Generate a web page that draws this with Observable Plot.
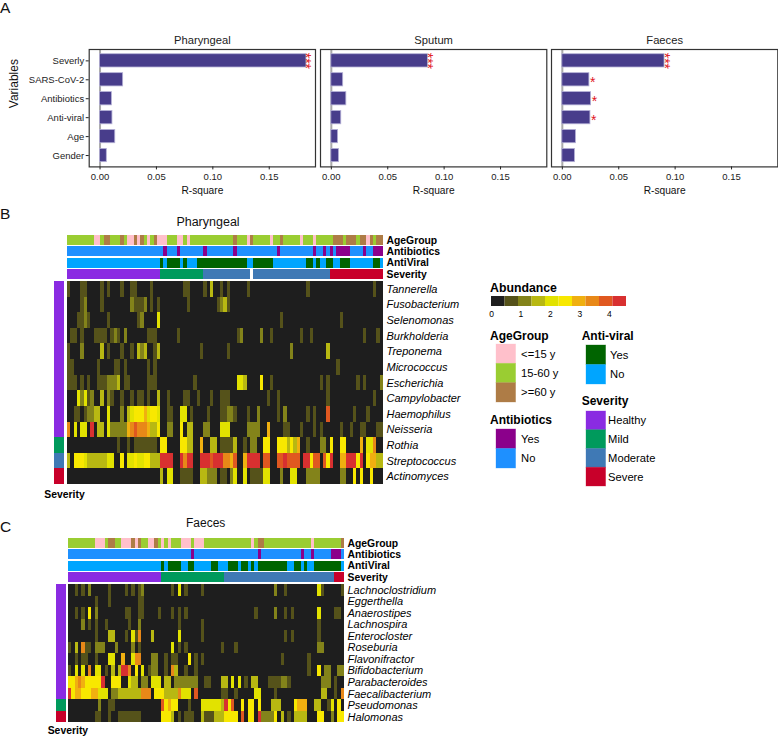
<!DOCTYPE html>
<html><head><meta charset="utf-8">
<script src="https://cdn.jsdelivr.net/npm/d3@7"></script>
<script src="https://cdn.jsdelivr.net/npm/@observablehq/plot@0.6"></script>
<style>
html,body{margin:0;padding:0;background:#fff}
#page{position:relative;width:778px;height:736px;overflow:hidden;font-family:"Liberation Sans",Arial,sans-serif;color:#111}
#page .t{position:absolute;white-space:nowrap;transform:translate(-50%,-50%)}
#page .l{position:absolute;white-space:nowrap;transform:translateY(-50%)}
#page svg{position:absolute;overflow:visible;max-width:none;background:transparent}
</style></head><body><div id="page"></div>
<script>
// ---------- Panel A ----------
const variables = ["Severly","SARS-CoV-2","Antibiotics","Anti-viral","Age","Gender"];
const pharyngealR2 = [0.183,0.0205,0.0105,0.011,0.0135,0.006];
const sputumR2 = [0.0857,0.0105,0.0133,0.0088,0.006,0.0068];
const faecesR2 = [0.0906,0.024,0.0255,0.0249,0.0121,0.0112];
const pharyngealStars = ["***","","","","",""];
const sputumStars = ["***","","","","",""];
const faecesStars = ["***","*","*","*","",""];
const r2Ticks = [0,0.05,0.10,0.15];

// ---------- Heat maps: "col:level" or "from-to:level" per taxon, everything else level 0 ----------
const abundanceLevels = [0,1,2,3,4,5,6,7,8,9];
const abundancePalette = ["#1e1e1e","#55521a","#83831a","#b8b812","#e2e200","#f8e800","#f0b010","#e88818","#e05820","#d83030"];
const abundanceTicks = [0,1,2,3,4];

const pharyngealTaxa = ["Tannerella","Fusobacterium","Selenomonas","Burkholderia","Treponema","Micrococcus","Escherichia","Campylobacter","Haemophilus","Neisseria","Rothia","Streptococcus","Actinomyces"];
const pharyngealRows = [
"0:1 4-5:1 10:1 12:1 16:1 19-20:1 25:1 35-36:1 41:1 43:3 46:1 48:1 54:1 72:1 92:1",
"4:1 5:2 10:1 19:2 20-22:1 23:2 25:1 27:1 36:1 45:1 46:2 47:3 48:1",
"3-4:1 5:2 6:1 12:1 21:1 22:2 27:4 64:1 82:1",
"1-2:1 4:1 8-11:1 13:1 14:2 15:1 17:2 24-26:1 33:1 51:1 52:2 58:2 61:1 70:1 73:1 89:1 93:1",
"0:1 4:2 10:3 12:1 16:1 19:1 21:3 22:2 23:3 26:1 27:3 40:1 48:1 67:2 78:3",
"0-1:1 9:1 14-15:1 17:1 24:1 26:1 81:1",
"0-2:1 4:1 6:1 9-11:1 12-14:2 15:3 17-18:1 24-26:1 38:1 51-52:4 53:3 58:5 61:1 76:1 78:1 87:1 89:1 94:2",
"3:4 4:2 5:4 6:1 7:2 10:3 12:2 13:1 16:1 19:1 21-22:1 24:1 27:3 30:1 35-36:1 39:1 43:1 46-47:1 48:1 60:1 63:1 78:1 92:1",
"2-3:1 5:1 6-7:2 8-9:3 12:4 16:2 18:3 19:4 20:5 21-22:5 23:6 24:4 25-26:5 27:4 30-31:1 34-35:4 37:1 42:1 46-47:1 48-49:2 50:1 54:1 57:2 63:1 65:2 72:1 74:1 78:8 86:1 90:1",
"0:7 2:4 4-5:4 7:9 9-10:3 12:4 13-17:2 18:6 19:7 20:8 21-23:7 24:6 25-26:3 27:5 30-31:2 34:5 36-37:3 41-42:2 46-48:4 54-57:2 60:6 65-66:1 70:1 74:1 76:1 82:1 85:1 88-89:1 93-94:1",
"15:1 18:1 20:1 21-26:1 28-29:5 34-35:5 36-37:3 40:6 43-44:3 46-49:1 50:3 53:1 55-56:2 59-60:5 63-65:5 66:3 67:5 68:3 69:6 72:1 76-77:2 79:5 82-83:5 88:6 90-91:4 92:7",
"0:3 2-4:5 5:4 6-11:3 12-13:4 16:5 18-19:4 20:5 21-22:4 23-24:5 25-27:3 28-31:9 34:9 35:7 36-37:9 40-42:9 43:8 44-46:9 47-48:7 49:6 50:8 53:6 54-57:9 59-60:8 63-64:8 65:9 66-69:8 71-72:9 73:5 74-75:8 77:8 78:5 79:9 82-83:6 84-86:9 87:5 88:9 90:5 91-92:6 93-94:3",
"28:3 30-31:4 34-37:1 40-41:3 42-44:2 46-47:1 49:2 50:4 53:4 55-58:1 59-60:4 64:2 67-68:4 72-75:2 82-83:2 86:5 88:5 91:5"
];
const pharyngealColumns = 95;
const pharyngealTaxonSeverity = ["Healthy","Healthy","Healthy","Healthy","Healthy","Healthy","Healthy","Healthy","Healthy","Healthy","Mild","Moderate","Severe"];

const faecesTaxa = ["Lachnoclostridium","Eggerthella","Anaerostipes","Lachnospira","Enterocloster","Roseburia","Flavonifractor","Bifidobacterium","Parabacteroides","Faecalibacterium","Pseudomonas","Halomonas"];
const faecesRows = [
"2:1 4:1 6:2 12:1 17:1 19:1 21:1 22:2 31:1 33:4 35:1 40:1 62:2 65:1 75:4 76:1 82:1",
"8:1 12:1 21-22:1",
"2:1 4:1 6:5 8:2 17-18:1 21:1 22:1 27:1 31:1 33:1 35:1 56:1 62:2 65:1 67:1 75:4 80:1 81:1",
"4:2 6:1 8:1 11:1 18:1 21:2 33:1 40:1 75:1",
"8:1 12-13:3 17:1 19:4 20:1 21:7 25:3 33:4 40:1 65:1 67:1 75:1",
"0:1 2:3 4:7 5-6:1 8-10:2 14:2 19:2 21:1 31:4 33:1 35:1 46:1 50:1 75-76:2",
"2:1 4-5:1 8:1 12-13:4 16:6 19:4 20-21:7 25-26:2 29:1 31-32:1 36:5 38:1 40:1 64:1 72:1",
"0:1 2:4 4:4 6:7 8-9:4 11:1 13:3 15:3 16-17:9 18:7 20:5 22:4 24:1 25-26:2 29:1 31:7 32:3 35:1 38:1 72:1 75:5 77-78:2 81-82:2",
"0-1:5 2:6 3:7 4:6 5-6:5 7-9:5 10:9 13-15:5 18:4 19-20:3 22-23:2 25-27:4 29-30:3 32-38:2 41-42:1 46-47:3 49:4 51:4 53:1 55-56:3 60-63:1 64-65:2 66:1 76-78:2 80:1",
"0:9 1:5 2-3:6 4-6:5 7-8:6 9-11:4 13-14:2 15-21:3 22-24:7 26-28:5 29-32:3 33:7 34-36:4 38:8 46-47:1 50:1 56-57:4 62:1 76-77:3 80:1 82:7",
"9:2 12-13:1 28:8 29:5 30:6 31-32:5 36:1 40-45:4 46:3 47:9 48:5 49:8 52:5 54-55:5 57:5 61-63:3 68:5 69-71:6 74-75:3 78:1 79:4 81:5",
"8-9:1 12:1 15-17:1 18-21:1 28-30:5 31:3 33:1 35-37:1 40:3 41-43:1 44-46:3 47-50:5 52:8 54-55:5 57:9 58-61:2 62:5 64:3 66:1 68-71:3 75-76:5 79:2 81-82:5"
];
const faecesColumns = 83;
const faecesTaxonSeverity = ["Healthy","Healthy","Healthy","Healthy","Healthy","Healthy","Healthy","Healthy","Healthy","Healthy","Mild","Severe"];

// ---------- Sample annotations: base category, then "col:category" overrides ----------
const tracks = ["AgeGroup","Antibiotics","AntiViral","Severity"];
const pharyngealAge = "0-94:15-60 y 8-9:<=15 y 11-12:>=60 y 16:>=60 y 18-19:<=15 y 20:>=60 y 21:<=15 y 22:>=60 y 24:<=15 y 26:>=60 y 27:<=15 y 28-29:<=15 y 33-34:<=15 y 36:<=15 y 50:>=60 y 54:<=15 y 55:>=60 y 61:<=15 y 64:>=60 y 70:<=15 y 74:<=15 y 80-82:>=60 y 84-86:>=60 y 88-89:>=60 y 90:<=15 y 91:>=60 y 93-94:>=60 y";
const pharyngealAntibiotics = "0-94:No 29:Yes 33:Yes 41:Yes 50:Yes 63:Yes 74:Yes 77:Yes 79:Yes 81-84:Yes 89:Yes 92-94:Yes";
const pharyngealAntiviral = "0-94:No 28:Yes 30-33:Yes 35:Yes 39-53:Yes 56-61:Yes 72-73:Yes 75:Yes 78-79:Yes 82-84:Yes 92-93:Yes";
const pharyngealSeverity = "0-27:Healthy 28-40:Mild 41-54:Moderate 56-78:Moderate 79-94:Severe";
const faecesAge = "0-82:15-60 y 8-10:<=15 y 12-13:>=60 y 16-18:<=15 y 19:>=60 y 20:<=15 y 21:>=60 y 24:<=15 y 25:<=15 y 26:>=60 y 28:<=15 y 30:<=15 y 34-36:<=15 y 38-40:<=15 y 55:<=15 y 57-58:>=60 y 73:<=15 y 82:>=60 y";
const faecesAntibiotics = "0-82:No 37:Yes 57:Yes 70:Yes 73:Yes 79-81:Yes";
const faecesAntiviral = "0-82:No 28:Yes 30-33:Yes 36-37:Yes 43-44:Yes 48-50:Yes 52-53:Yes 55:Yes 57-65:Yes 68-69:Yes 71:Yes 74-81:Yes";
const faecesSeverity = "0-27:Healthy 28-46:Mild 47-79:Moderate 80-82:Severe";

// ---------- Legends ----------
const ageLevels = ["<=15 y","15-60 y",">=60 y"];
const ageColors = ["#ffc0cb","#9acd32","#ae7c46"];
const antibioticLevels = ["Yes","No"];
const antibioticColors = ["#8b008b","#1e90ff"];
const antiviralLevels = ["Yes","No"];
const antiviralColors = ["#006400","#00a5ff"];
const severityLevels = ["Healthy","Mild","Moderate","Severe"];
const severityColors = ["#8a2be2","#009a5c","#3f79b5","#c8002a"];

const page = document.getElementById("page");
const FONT = '"Liberation Sans",Arial,sans-serif';
const colorOf = {
  AgeGroup: Object.fromEntries(ageLevels.map((k,i)=>[k,ageColors[i]])),
  Antibiotics: Object.fromEntries(antibioticLevels.map((k,i)=>[k,antibioticColors[i]])),
  AntiViral: Object.fromEntries(antiviralLevels.map((k,i)=>[k,antiviralColors[i]])),
  Severity: Object.fromEntries(severityLevels.map((k,i)=>[k,severityColors[i]]))
};
function place(svg,x,y){svg.style.left=x+"px";svg.style.top=y+"px";page.appendChild(svg);}
function label(cls,text,x,y,size,extra){const s=document.createElement("span");s.className=cls;s.textContent=text;s.style.left=x+"px";s.style.top=y+"px";s.style.fontSize=size+"px";if(extra)Object.assign(s.style,extra);page.appendChild(s);}
function parseRuns(str,extra){
  return str.match(/\d+(-\d+)?:[^:]+?(?= \d+(?:-\d+)?:|$)/g).map(tok=>{
    const i=tok.indexOf(":"),[a,b]=tok.slice(0,i).split("-").map(Number);
    return {start:a,end:(b===undefined?a:b)+1,value:tok.slice(i+1),...extra};
  });
}

// Panel A
function barPanel(title,values,stars,left,withAxis){
  const W=226.3,H=117.4,ml=withAxis?88.7:8,mr=8,mt=22,mb=32;
  const data=variables.map((v,i)=>({v,r2:values[i],star:stars[i]}));
  const marks=[
    Plot.ruleX([0],{stroke:"#aaa",strokeWidth:2}),
    Plot.barX(data,{x:"r2",y:"v",fill:"#483d8b",stroke:"#b4b0d6",strokeWidth:0.8}),
    Plot.text(data.filter(d=>d.star.length>1),{x:"r2",y:"v",text:"star",rotate:90,fill:"#e0141c",fontSize:14,dx:-0.5}),
    Plot.text(data.filter(d=>d.star.length===1),{x:"r2",y:"v",text:"star",fill:"#e0141c",fontSize:14,dx:3.4,dy:3}),
    Plot.frame({stroke:"#333",strokeWidth:1.2}),
    Plot.axisX({ticks:r2Ticks,tickFormat:d3.format(".2f"),tickSize:3,tickPadding:3.5,label:null,fontSize:9.5,color:"#222"}),
    Plot.text([title],{frameAnchor:"top",dy:-13,fontSize:11.2,fill:"#222"}),
    Plot.text(["R-square"],{frameAnchor:"bottom",dy:27,fontSize:10.2,fill:"#111"})
  ];
  if(withAxis){
    marks.push(Plot.axisY({tickSize:3,tickPadding:2,label:null,fontSize:9.5,color:"#222"}));
    marks.push(Plot.text(["Variables"],{frameAnchor:"left",dx:-75,rotate:-90,fontSize:12,fill:"#111"}));
  }
  const svg=Plot.plot({width:W+ml+mr,height:H+mt+mb,marginLeft:ml,marginRight:mr,marginTop:mt,marginBottom:mb,
    style:{fontFamily:FONT,background:"transparent"},
    x:{domain:[-0.0096,0.191]},y:{type:"band",domain:variables,paddingInner:0.3,paddingOuter:0.25,round:false,axis:withAxis?undefined:null},marks});
  place(svg,left-ml,49.3-mt);
}
barPanel("Pharyngeal",pharyngealR2,pharyngealStars,88.7,true);
barPanel("Sputum",sputumR2,sputumStars,319.5,false);
barPanel("Faeces",faecesR2,faecesStars,551.3,false);

// Heat map blocks
function annotation(specs,n,x,y,w){
  const H=43.9,mr=70;
  const runs=tracks.flatMap((t,i)=>parseRuns(specs[i],{track:t}));
  const svg=Plot.plot({width:w+mr,height:H,marginLeft:0,marginRight:mr,marginTop:0,marginBottom:0,
    style:{fontFamily:FONT,background:"transparent"},
    x:{domain:[0,n],axis:null},y:{type:"band",domain:tracks,paddingInner:0.11,paddingOuter:0,round:false,axis:null},
    marks:[
      Plot.barX(runs,{x1:"start",x2:"end",y:"track",fill:d=>colorOf[d.track][d.value],shapeRendering:"crispEdges"}),
      Plot.axisY({anchor:"right",tickSize:0,tickPadding:3,label:null,fontSize:10.4,fontWeight:"bold",color:"#000"})
    ]});
  place(svg,x,y);
}
function heat(taxa,rows,n,x,y,w,h){
  const mr=100;
  const base=taxa.map(t=>({taxon:t,start:0,end:n,value:0}));
  const runs=taxa.flatMap((t,i)=>parseRuns(rows[i],{taxon:t})).map(d=>({...d,value:+d.value}));
  const svg=Plot.plot({width:w+mr,height:h,marginLeft:0,marginRight:mr,marginTop:0,marginBottom:0,
    style:{fontFamily:FONT,fontStyle:"italic",background:"transparent"},
    x:{domain:[0,n],axis:null},y:{type:"band",domain:taxa,padding:0,round:false,axis:null},
    color:{type:"ordinal",domain:abundanceLevels,range:abundancePalette},
    marks:[
      Plot.barX(base.concat(runs),{x1:"start",x2:"end",y:"taxon",fill:"value",shapeRendering:"crispEdges"}),
      Plot.axisY({anchor:"right",tickSize:0,tickPadding:3,label:null,fontSize:11,color:"#000"})
    ]});
  place(svg,x,y);
}
function rowBar(taxa,sev,x,y,w,h){
  const data=taxa.map((t,i)=>({t,s:sev[i]}));
  const svg=Plot.plot({width:w,height:h,margin:0,style:{background:"transparent"},
    x:{axis:null},y:{type:"band",domain:taxa,padding:0,round:false,axis:null},
    color:{type:"ordinal",domain:severityLevels,range:severityColors},
    marks:[Plot.barX(data,{x:()=>1,y:"t",fill:"s",shapeRendering:"crispEdges"})]});
  place(svg,x,y);
}
annotation([pharyngealAge,pharyngealAntibiotics,pharyngealAntiviral,pharyngealSeverity],pharyngealColumns,66.7,235,316);
heat(pharyngealTaxa,pharyngealRows,pharyngealColumns,66.7,281,316,203);
rowBar(pharyngealTaxa,pharyngealTaxonSeverity,54,281,10,203);
annotation([faecesAge,faecesAntibiotics,faecesAntiviral,faecesSeverity],faecesColumns,68.3,537.5,276);
heat(faecesTaxa,faecesRows,faecesColumns,68.3,584,276,138.3);
rowBar(faecesTaxa,faecesTaxonSeverity,56,584,10,138.3);

// Legends
function legend(title,levels,colors,x,y,sw,h,size,gap){
  const ml=0,mr=70,mt=16;
  const svg=Plot.plot({width:sw+mr,height:h+mt,marginLeft:ml,marginRight:mr,marginTop:mt,marginBottom:0,
    style:{fontFamily:FONT,background:"transparent"},
    x:{axis:null},y:{type:"band",domain:levels,padding:0,round:false,axis:null},
    color:{type:"ordinal",domain:levels,range:colors},
    marks:[
      Plot.barX(levels,{x:()=>1,y:d=>d,fill:d=>d,stroke:d=>d,strokeOpacity:0.4,strokeWidth:0.8}),
      Plot.axisY({anchor:"right",tickSize:0,tickPadding:gap,label:null,fontSize:size,color:"#000"})
    ]});
  place(svg,x,y-mt);
}
legend("AgeGroup",ageLevels,ageColors,495.7,344.3,19.6,58,11.2,5);
legend("Antibiotics",antibioticLevels,antibioticColors,495.7,429.3,19.6,39,11.2,5);
legend("Anti-viral",antiviralLevels,antiviralColors,585.7,345.3,19.6,39,11.2,4);
legend("Severity",severityLevels,severityColors,585.7,410.7,19.6,75,11.2,2);
[["AgeGroup",490,335.7],["Antibiotics",490,420],["Anti-viral",581.7,336],["Severity",581.7,401],["Abundance",490,288]]
  .forEach(([t,x,y])=>label("l",t,x,y,t==="Abundance"?12.3:12,{fontWeight:"bold",color:"#000"}));

// Abundance colour bar
(function(){
  const step=4.58/abundanceLevels.length;
  const data=abundanceLevels.map(l=>({l,a:l*step,b:(l+1)*step}));
  const svg=Plot.plot({width:150,height:24,marginLeft:4,marginRight:11,marginTop:0,marginBottom:14,
    style:{fontFamily:FONT,background:"transparent"},
    x:{domain:[0,4.58]},y:{axis:null},color:{type:"ordinal",domain:abundanceLevels,range:abundancePalette},
    marks:[
      Plot.rectY(data,{x1:"a",x2:"b",y1:()=>0,y2:()=>1,fill:"l"}),
      Plot.axisX({ticks:abundanceTicks,tickSize:0,tickPadding:4,label:null,fontSize:8.5,color:"#000",tickFormat:d3.format("d")})
    ]});
  place(svg,491-4,296);
})();

// Text
label("l","A",0,8,15.5);
label("l","B",0,214,15.5);
label("l","C",0,527,15.5);
label("t","Pharyngeal",208,221.7,12.5);
label("t","Faeces",205.7,522.7,12);
label("l","Severity",44.3,494,10.4,{fontWeight:"bold",color:"#000"});
label("l","Severity",47.7,730,10.4,{fontWeight:"bold",color:"#000"});
</script></body></html>
